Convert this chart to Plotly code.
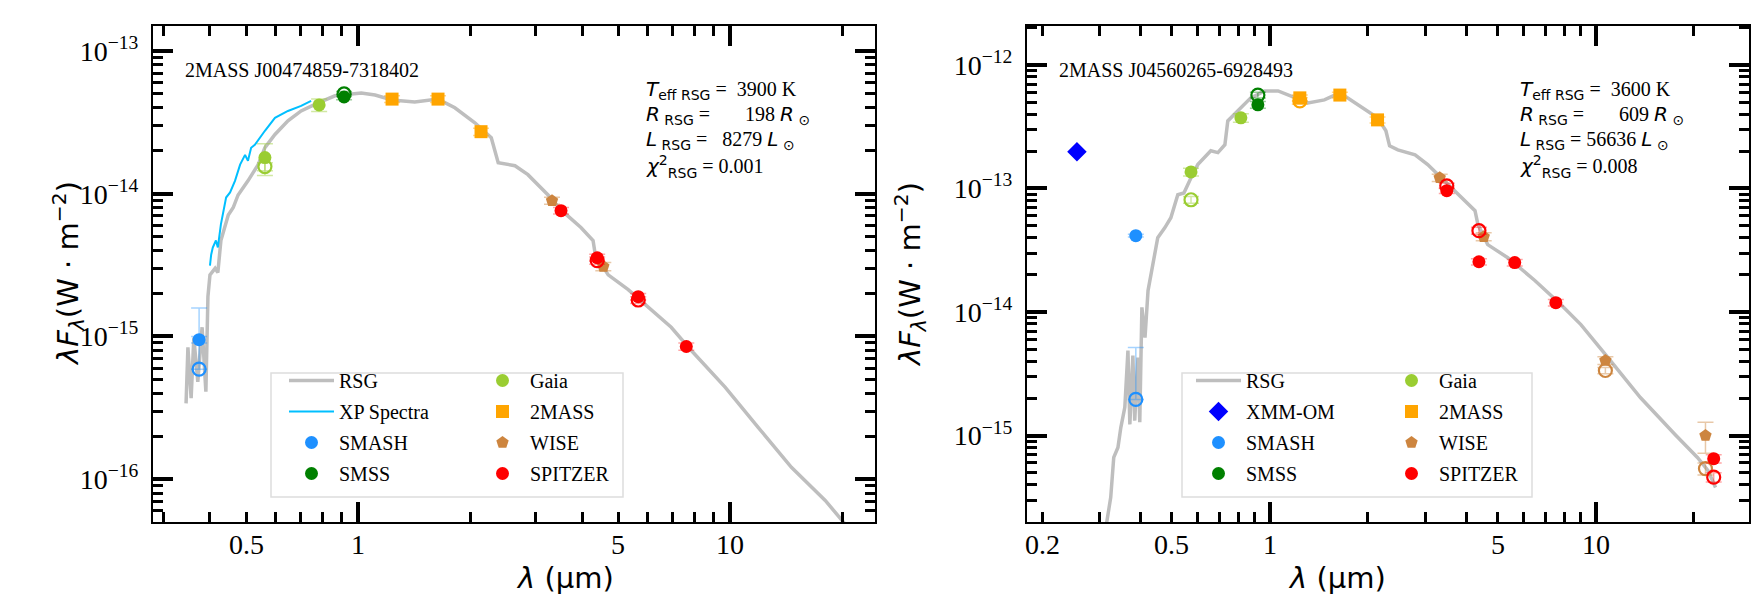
import math
import plotly.graph_objects as go

# ---------- left: 2MASS J00474859-7318402 ----------
name_l = '2MASS J00474859-7318402'
rsg_l_wave = [0.345, 0.349, 0.356, 0.362, 0.371, 0.381, 0.390, 0.395, 0.400, 0.413, 0.420, 0.428, 0.448,
              0.462, 0.476, 0.488, 0.506, 0.539, 0.562, 0.598, 0.648, 0.703, 0.781, 0.867, 0.958, 1.02,
              1.111, 1.234, 1.42, 1.64, 1.82, 2.06, 2.28, 2.33, 2.38, 2.64, 2.86, 3.24, 3.51, 3.97, 4.28,
              4.34, 4.70, 5.32, 6.02, 6.94, 7.85, 9.7, 11.9, 14.6, 18.0, 19.9, 23.5]
rsg_l_flux = [3.4e-16, 8.4e-16, 3.7e-16, 9.8e-16, 4.8e-16, 1.16e-15, 4.1e-16, 1.9e-15, 2.7e-15, 3.0e-15,
              2.8e-15, 4.7e-15, 7.1e-15, 8.0e-15, 9.8e-15, 1.07e-14, 1.23e-14, 1.6e-14, 2.1e-14, 2.6e-14,
              3.24e-14, 3.8e-14, 4.33e-14, 4.85e-14, 5.0e-14, 5.08e-14, 4.92e-14, 4.54e-14, 4.4e-14, 4.6e-14,
              4.0e-14, 3.14e-14, 2.47e-14, 2.0e-14, 1.65e-14, 1.57e-14, 1.36e-14, 9.8e-15, 7.7e-15, 5.8e-15,
              4.7e-15, 3.74e-15, 2.7e-15, 2.13e-15, 1.6e-15, 1.16e-15, 8.0e-16, 4.4e-16, 2.3e-16, 1.21e-16,
              7.1e-17, 5.2e-17, 3.1e-17]
xp_wave = [0.400, 0.403, 0.407, 0.415, 0.420, 0.428, 0.442, 0.453, 0.467, 0.482, 0.497, 0.506, 0.516,
           0.528, 0.562, 0.598, 0.648, 0.703, 0.748]
xp_flux = [3.14e-15, 3.74e-15, 4.2e-15, 4.7e-15, 4.2e-15, 6.1e-15, 9.4e-15, 1.02e-14, 1.23e-14, 1.6e-14,
           1.87e-14, 1.7e-14, 2.1e-14, 2.2e-14, 2.76e-14, 3.4e-14, 3.8e-14, 4.12e-14, 4.47e-14]

smash_l_wave, smash_l_flux, smash_l_err = [0.374], [9.5e-16], [5e-17]
smash_l_open_wave, smash_l_open_flux, smash_l_open_err = [0.374], [5.9e-16], [9.9e-16]
smss_l_wave, smss_l_flux, smss_l_err = [0.917], [4.76e-14], [2e-15]
smss_l_open_wave, smss_l_open_flux, smss_l_open_err = [0.917], [5.0e-14], [2e-15]
gaia_l_wave, gaia_l_flux, gaia_l_err = [0.562, 0.786], [1.79e-14, 4.19e-14], [4.5e-15, 4.2e-15]
gaia_l_open_wave, gaia_l_open_flux, gaia_l_open_err = [0.562], [1.55e-14], [1e-15]
tmass_l_wave, tmass_l_flux, tmass_l_err = [1.234, 1.64, 2.14], [4.6e-14, 4.6e-14, 2.72e-14], [2.5e-15, 2.5e-15, 1.6e-15]
wise_l_wave, wise_l_flux, wise_l_err = [3.32, 4.56], [8.93e-15, 3.09e-15], [5e-16, 2e-16]
spitzer_l_wave, spitzer_l_flux, spitzer_l_err = [3.51, 4.39, 5.66, 7.62], [7.6e-15, 3.56e-15, 1.9e-15, 8.5e-16], [4e-16, 2e-16, 1e-16, 5e-17]
spitzer_l_open_wave, spitzer_l_open_flux, spitzer_l_open_err = [4.39, 5.66], [3.4e-15, 1.8e-15], [2e-16, 1e-16]

# ---------- right: 2MASS J04560265-6928493 ----------
name_r = '2MASS J04560265-6928493'
rsg_r_wave = [0.307, 0.316, 0.325, 0.332, 0.342, 0.349, 0.359, 0.367, 0.372, 0.380, 0.385, 0.394, 0.399,
              0.405, 0.414, 0.423, 0.438, 0.453, 0.476, 0.497, 0.522, 0.545, 0.573, 0.601, 0.659, 0.693,
              0.728, 0.743, 0.798, 0.874, 0.965, 1.06, 1.31, 1.47, 1.64, 1.86, 2.14, 2.27, 2.33, 2.47, 2.79,
              3.05, 3.35, 3.77, 4.26, 4.35, 4.66, 5.37, 6.50, 7.81, 9.0, 10.9, 13.7, 17.5, 20.5, 22.1, 23.3]
rsg_r_flux = [1.24e-16, 2.02e-16, 3.16e-16, 6.65e-16, 8.0e-16, 1.16e-15, 1.69e-15, 4.88e-15, 1.23e-15,
              4.44e-15, 1.32e-15, 4.28e-15, 1.28e-15, 1.09e-14, 6.2e-15, 1.49e-14, 2.42e-14, 3.99e-14,
              4.8e-14, 5.79e-14, 8.9e-14, 9.2e-14, 1.22e-13, 1.56e-13, 2.02e-13, 1.95e-13, 2.26e-13, 3.52e-13,
              4.25e-13, 5.41e-13, 6.16e-13, 6.16e-13, 4.93e-13, 5.21e-13, 5.94e-13, 4.75e-13, 3.73e-13,
              2.93e-13, 2.21e-13, 2.05e-13, 1.87e-13, 1.56e-13, 1.22e-13, 8.9e-14, 6.6e-14, 5.1e-14, 3.51e-14,
              2.75e-14, 1.8e-14, 1.15e-14, 7.9e-15, 4.28e-15, 2.03e-15, 1.02e-15, 6.65e-16, 5.2e-16, 3.8e-16]

xmm_r_wave, xmm_r_flux = [0.256], [1.98e-13]
smash_r_wave, smash_r_flux, smash_r_err = [0.388], [4.15e-14], [1e-15]
smash_r_open_wave, smash_r_open_flux, smash_r_open_err = [0.388], [1.96e-15], [3.19e-15]
smss_r_wave, smss_r_flux, smss_r_err = [0.919], [4.75e-13], [3e-14]
smss_r_open_wave, smss_r_open_flux, smss_r_open_err = [0.919], [5.7e-13], [3e-14]
gaia_r_wave, gaia_r_flux, gaia_r_err = [0.573, 0.815], [1.36e-13, 3.73e-13], [1e-14, 3e-14]
gaia_r_open_wave, gaia_r_open_flux, gaia_r_open_err = [0.573], [8.1e-14], [5e-15]
tmass_r_wave, tmass_r_flux, tmass_r_err = [1.236, 1.64, 2.14], [5.41e-13, 5.7e-13, 3.59e-13], [3e-14, 3e-14, 2e-14]
tmass_r_open_wave, tmass_r_open_flux, tmass_r_open_err = [1.236], [5.11e-13], [3e-14]
wise_r_wave, wise_r_flux, wise_r_err = [3.32, 4.53, 10.7, 21.7], [1.22e-13, 4.07e-14, 4.05e-15, 1.0e-15], [8e-15, 3e-15, 3e-16, 2.8e-16]
wise_r_open_wave, wise_r_open_flux, wise_r_open_err = [10.7, 21.7], [3.36e-15, 5.4e-16], [2e-16, 6e-17]
spitzer_r_wave, spitzer_r_flux, spitzer_r_err = [3.49, 4.38, 5.64, 7.54, 23.0], [9.6e-14, 2.55e-14, 2.51e-14, 1.19e-14, 6.5e-16], [5e-15, 1.5e-15, 1.5e-15, 7e-16, 5e-17]
spitzer_r_open_wave, spitzer_r_open_flux, spitzer_r_open_err = [3.49, 4.38, 23.0], [1.05e-13, 4.55e-14, 4.6e-16], [5e-15, 3e-15, 4e-17]

# fit parameters
teff = [3900, 3600]
radius = [198, 609]
lum = [8279, 56636]
chi2 = [0.001, 0.008]

# tick labels
xtick_l = [0.5, 1, 5, 10]
xtick_r = [0.2, 0.5, 1, 5, 10]
ydec_l = [-16, -15, -14, -13]
ydec_r = [-15, -14, -13, -12]

colors = {'SMASH': ('#1E90FF', 'rgba(30,144,255,0.4)'), 'SMSS': ('#008000', 'rgba(0,128,0,0.4)'),
          'Gaia': ('#9ACD32', 'rgba(154,205,50,0.45)'), '2MASS': ('#FFA500', 'rgba(255,165,0,0.45)'),
          'WISE': ('#CD853F', 'rgba(205,133,63,0.45)'), 'SPITZER': ('#FF0000', 'rgba(255,0,0,0.35)'),
          'XMM-OM': ('#0000FF', 'rgba(0,0,255,0.4)')}
SERIF = 'Liberation Serif'
SANS = 'DejaVu Sans'

fig = go.Figure()


def phot(name, wave, flux, err, xa, ya, leg, symbol='circle', size=13, hollow=False, err_down=None, show=True):
    c, ce = colors[name]
    fig.add_trace(go.Scatter(
        x=wave, y=flux, mode='markers', name=name, xaxis=xa, yaxis=ya, legend=leg,
        legendgroup=leg + name + str(hollow), showlegend=show,
        marker=dict(symbol=symbol + ('-open' if hollow else ''), size=size, color=c,
                    line=dict(width=2.2 if hollow else 0, color=c)),
        error_y=dict(type='data', array=err, arrayminus=err_down, color=ce, thickness=1.5, width=8),
    ))


def model(wave, flux, xa, ya, leg):
    fig.add_trace(go.Scatter(x=wave, y=flux, mode='lines', name='RSG', xaxis=xa, yaxis=ya, legend=leg,
                             legendgroup=leg + 'RSG', line=dict(color='#BEBEBE', width=3.5)))


# left panel
model(rsg_l_wave, rsg_l_flux, 'x', 'y', 'legend')
fig.add_trace(go.Scatter(x=xp_wave, y=xp_flux, mode='lines', name='XP Spectra', xaxis='x', yaxis='y',
                         legend='legend', legendgroup='legendXP', line=dict(color='#00BFFF', width=2)))
phot('SMASH', smash_l_wave, smash_l_flux, smash_l_err, 'x', 'y', 'legend')
phot('SMASH', smash_l_open_wave, smash_l_open_flux, smash_l_open_err, 'x', 'y', 'legend', hollow=True, err_down=[0], show=False)
phot('SMSS', smss_l_open_wave, smss_l_open_flux, smss_l_open_err, 'x', 'y', 'legend', hollow=True, show=False)
phot('SMSS', smss_l_wave, smss_l_flux, smss_l_err, 'x', 'y', 'legend')
phot('Gaia', gaia_l_wave, gaia_l_flux, gaia_l_err, 'x', 'y', 'legend2')
phot('Gaia', gaia_l_open_wave, gaia_l_open_flux, gaia_l_open_err, 'x', 'y', 'legend2', hollow=True, show=False)
phot('2MASS', tmass_l_wave, tmass_l_flux, tmass_l_err, 'x', 'y', 'legend2', symbol='square')
phot('WISE', wise_l_wave, wise_l_flux, wise_l_err, 'x', 'y', 'legend2', symbol='pentagon')
phot('SPITZER', spitzer_l_wave, spitzer_l_flux, spitzer_l_err, 'x', 'y', 'legend2')
phot('SPITZER', spitzer_l_open_wave, spitzer_l_open_flux, spitzer_l_open_err, 'x', 'y', 'legend2', hollow=True, show=False)

# right panel
model(rsg_r_wave, rsg_r_flux, 'x2', 'y2', 'legend3')
phot('XMM-OM', xmm_r_wave, xmm_r_flux, None, 'x2', 'y2', 'legend3', symbol='diamond', size=15)
phot('SMASH', smash_r_wave, smash_r_flux, smash_r_err, 'x2', 'y2', 'legend3')
phot('SMASH', smash_r_open_wave, smash_r_open_flux, smash_r_open_err, 'x2', 'y2', 'legend3', hollow=True, err_down=[0], show=False)
phot('SMSS', smss_r_open_wave, smss_r_open_flux, smss_r_open_err, 'x2', 'y2', 'legend3', hollow=True, show=False)
phot('SMSS', smss_r_wave, smss_r_flux, smss_r_err, 'x2', 'y2', 'legend3')
phot('Gaia', gaia_r_wave, gaia_r_flux, gaia_r_err, 'x2', 'y2', 'legend4')
phot('Gaia', gaia_r_open_wave, gaia_r_open_flux, gaia_r_open_err, 'x2', 'y2', 'legend4', hollow=True, show=False)
phot('2MASS', tmass_r_open_wave, tmass_r_open_flux, tmass_r_open_err, 'x2', 'y2', 'legend4', hollow=True, show=False)
phot('2MASS', tmass_r_wave, tmass_r_flux, tmass_r_err, 'x2', 'y2', 'legend4', symbol='square')
phot('WISE', wise_r_wave, wise_r_flux, wise_r_err, 'x2', 'y2', 'legend4', symbol='pentagon')
phot('WISE', wise_r_open_wave, wise_r_open_flux, wise_r_open_err, 'x2', 'y2', 'legend4', hollow=True, show=False)
phot('SPITZER', spitzer_r_wave, spitzer_r_flux, spitzer_r_err, 'x2', 'y2', 'legend4')
phot('SPITZER', spitzer_r_open_wave, spitzer_r_open_flux, spitzer_r_open_err, 'x2', 'y2', 'legend4', hollow=True, show=False)

W, H = 1760, 615
dom_l = [145 / W, 867 / W]
dom_r = [1019 / W, 1741 / W]
dom_y = [1 - 514 / H, 1 - 18 / H]
tickfont = dict(family=SERIF, size=28, color='black')
minor_y = [m * 10.0 ** d for d in range(-17, -11) for m in range(2, 10)]
minor_x = [m * 10.0 ** d for d in range(-1, 2) for m in range(2, 10)]
minor = dict(tickvals=minor_x, ticks='inside', ticklen=10, tickwidth=2.5, tickcolor='black', showgrid=False)


def xax(rng, dom, anchor):
    return dict(type='log', range=rng, domain=dom, anchor=anchor, automargin=False, showgrid=False, zeroline=False,
                tickvals=[1, 10], showticklabels=False, ticks='inside', ticklen=20, tickwidth=4, tickcolor='black',
                minor=minor, showline=True, linecolor='black', linewidth=2, mirror='allticks')


def yax(rng, anchor, decades):
    return dict(type='log', range=rng, domain=dom_y, anchor=anchor, automargin=False, showgrid=False, zeroline=False,
                tickvals=[10.0 ** d for d in decades], ticktext=['10<sup>−%d</sup>\u00a0' % -d for d in decades],
                tickfont=tickfont, ticks='inside', ticklen=20, tickwidth=4, tickcolor='black',
                minor=dict(minor, tickvals=minor_y),
                showline=True, linecolor='black', linewidth=2, mirror='allticks')


xr_l = [-0.551, 1.389]
xr_r = [-0.745, 1.47]
fig.update_layout(
    width=W, height=H, margin=dict(l=0, r=0, t=0, b=0),
    paper_bgcolor='white', plot_bgcolor='white',
    xaxis=xax(xr_l, dom_l, 'y'),
    yaxis=yax([-16.3, -12.825], 'x', ydec_l),
    xaxis2=xax(xr_r, dom_r, 'y2'),
    yaxis2=yax([-15.7, -11.685], 'x2', ydec_r),
)

# x tick labels, placed on the log x scale
for xa, ticks in [('x', xtick_l), ('x2', xtick_r)]:
    for v in ticks:
        fig.add_annotation(xref=xa, yref='paper', x=math.log10(v), y=1 - 536 / H, text='%g' % v,
                           showarrow=False, xanchor='center', yanchor='middle', font=tickfont)

legfont = dict(family=SERIF, size=20, color='black')
for key, px in [('legend', 276), ('legend2', 467), ('legend3', 1183), ('legend4', 1376)]:
    fig.layout[key] = dict(x=px / W, y=1 - 353 / H, xanchor='left', yanchor='top', bgcolor='rgba(0,0,0,0)',
                           font=legfont, traceorder='grouped', tracegroupgap=2, itemwidth=45,
                           borderwidth=0)

for x0, x1 in [(263, 615), (1174, 1524)]:
    fig.add_shape(type='rect', xref='paper', yref='paper', x0=x0 / W, x1=x1 / W, y0=1 - 489 / H, y1=1 - 365 / H,
                  line=dict(color='#DDDDDD', width=1.5), fillcolor='rgba(255,255,255,0.8)', layer='below')

# star names
for xa, ya, nm in [('x', 'y', name_l), ('x2', 'y2', name_r)]:
    fig.add_annotation(xref=xa + ' domain', yref=ya + ' domain', x=0.041, y=0.911, xanchor='left', yanchor='middle',
                       text=nm, showarrow=False, font=dict(family=SERIF, size=20, color='black'))

# fit parameters
nb = '\u00a0'
for i, (xa, ya) in enumerate([('x', 'y'), ('x2', 'y2')]):
    lines = [
        '<span style="font-family:DejaVu Sans"><i>T</i><sub>eff RSG</sub></span>' + nb + '=' + nb + ('%5d' % teff[i]).replace(' ', nb) + nb + 'K',
        '<span style="font-family:DejaVu Sans"><i>R</i><sub>' + nb + 'RSG</sub></span>' + nb + '=' + nb + ('%6d' % radius[i]).replace(' ', nb * 2) + nb +
        '<span style="font-family:DejaVu Sans"><i>R</i><sub>' + nb + '⊙</sub></span>',
        '<span style="font-family:DejaVu Sans"><i>L</i><sub>' + nb + 'RSG</sub></span>' + nb + '=' + nb + ('%5d' % lum[i]).replace(' ', nb * 2) + nb +
        '<span style="font-family:DejaVu Sans"><i>L</i><sub>' + nb + '⊙</sub></span>',
        '<span style="font-family:DejaVu Sans"><i>χ</i><sup>2</sup><sub>RSG</sub></span>' + nb + '=' + nb + '%.3f' % chi2[i],
    ]
    for j, t in enumerate(lines):
        fig.add_annotation(xref=xa + ' domain', yref=ya + ' domain', x=0.68, y=[0.871, 0.8206, 0.770, 0.716][j],
                           xanchor='left', yanchor='middle', text=t, showarrow=False,
                           font=dict(family=SERIF, size=20, color='black'))

# axis titles
ytitle = '<i>λF</i><sub><i>λ</i></sub>(W · m<sup>−2</sup>)'
for xc in [37, 902]:
    fig.add_annotation(xref='paper', yref='paper', x=xc / W, y=1 - 266 / H, text=ytitle, textangle=-90,
                       showarrow=False, font=dict(family=SANS, size=29, color='black'))
for xc in [506, 1380]:
    fig.add_annotation(xref='paper', yref='paper', x=xc / W, y=1 - 589 / H, text='<i>λ</i> (μm)',
                       showarrow=False, font=dict(family=SANS, size=29, color='black'))

fig.write_html('out.html')
